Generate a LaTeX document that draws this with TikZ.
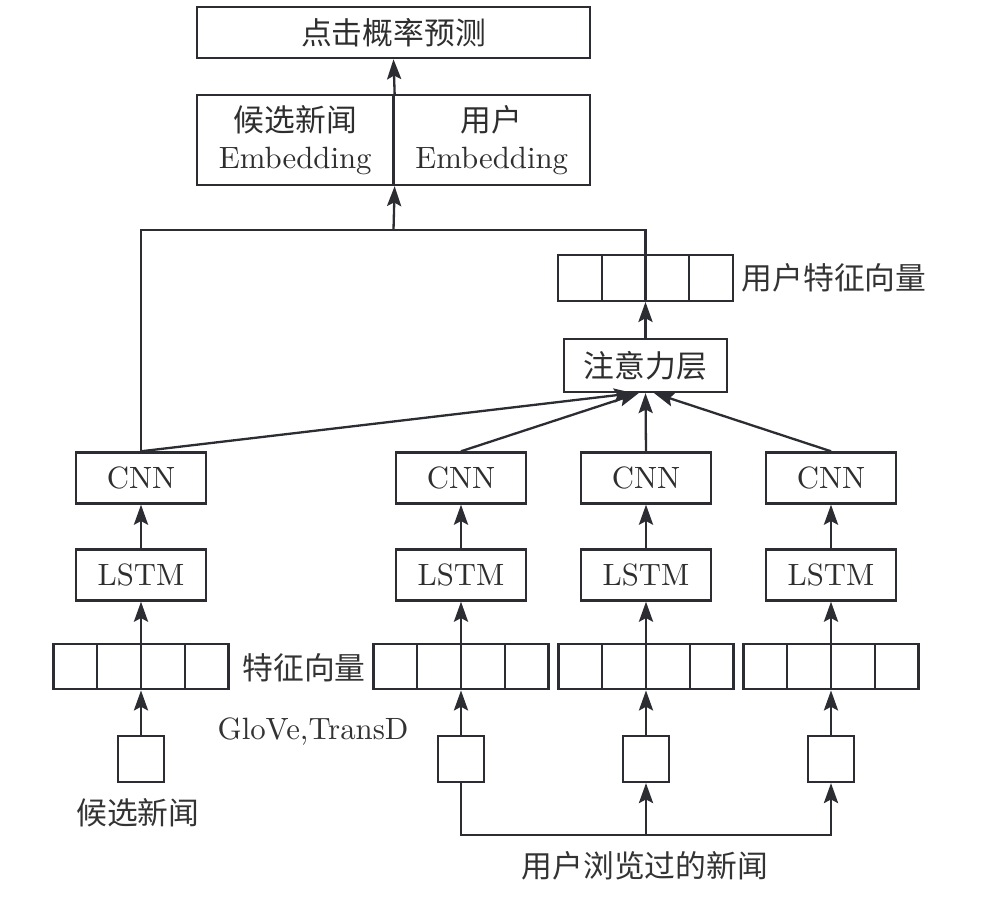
\documentclass[tikz,border=0pt]{standalone}
\usepackage{fontspec}
\newfontfamily\cjk{Noto Sans CJK SC}
\usepackage{tikz}
\usetikzlibrary{arrows.meta}

\definecolor{ink}{HTML}{2B2D33}
\tikzset{
  box/.style={draw=ink, minimum width=42.2pt, minimum height=16.6pt, inner sep=0pt},
  widebox/.style={box, minimum width=127.6pt},
  halfbox/.style={box, minimum width=63.8pt, minimum height=29.2pt, align=center},
  attbox/.style={box, minimum width=52.9pt, minimum height=17.2pt},
  newsbox/.style={box, minimum width=14.9pt, minimum height=14.9pt},
  vecbox/.style={draw=ink, minimum width=56.8pt, minimum height=14.8pt, inner sep=0pt,
    path picture={\foreach \k in {1,2,3}
      \draw[ink] ([xshift=\k*14.2pt]path picture bounding box.south west)
        -- ([xshift=\k*14.2pt]path picture bounding box.north west);}},
  txt/.style={inner sep=0pt, text=black!80}
}

\begin{document}
\begin{tikzpicture}[x=0.3247pt, y=-0.3247pt, line width=0.75pt, ink,
    >={Stealth[length=6.5pt,width=4.6pt,inset=1.2pt]}, every node/.append style={text=black!82}]
  \useasboundingbox (0,0) rectangle (998,898);
  %top part
  \node[widebox] (pred) at (393.5,32.5) {\cjk 点击概率预测};
  \node[halfbox] (candemb) at (295.25,140) {{\cjk 候选新闻}\\Embedding};
  \node[halfbox] (useremb) at (491.75,140) {{\cjk 用户}\\Embedding};
  \draw[->] (candemb.north east) -- (pred.south);
  \coordinate (bus) at (393.5,230);

  \node[vecbox] (uvec) at (645.5,278) {};
  \node[txt] (uveclabel) at (834,278) {\cjk 用户特征向量};
  \node[attbox] (att) at (645.5,365.5) {\cjk 注意力层};
  \draw[->] (att) -- (uvec);

  %columns
  \foreach \i/\x in {0/141,1/461,2/646,3/831} {
    \node[box] (cnn\i) at (\x,478) {CNN};
    \node[box] (lstm\i) at (\x,575) {LSTM};
    \node[vecbox] (vec\i) at (\x,666.5) {};
    \node[newsbox] (news\i) at (\x,759) {};
    \draw[->] (news\i) -- (vec\i);
    \draw[->] (vec\i) -- (lstm\i);
    \draw[->] (lstm\i) -- (cnn\i);
  }
  \draw[->] (cnn0.north) -- ([xshift=-3.8pt]att.south);
  \draw[->] (cnn1.north) -- ([xshift=-2.2pt]att.south);
  \draw[->] (cnn2.north) -- (att.south);
  \draw[->] (cnn3.north) -- ([xshift=2.8pt]att.south);

  \draw (cnn0.north) |- (bus) -| (uvec.north);
  \draw[->] (bus) -- (candemb.south east);

  \node[txt] (veclabel) at (304,668) {\cjk 特征向量};
  \node[txt] (embedlabel) at (313,732) {GloVe,TransD};
  \node[txt] (candlabel) at (138,813) {\cjk 候选新闻};

  %browsed news
  \coordinate (hist) at (646,835);
  \draw[->] (news1.south) |- (hist) -| (news3.south);
  \draw[->] (hist) -- (news2.south);
  \node[txt] (histlabel) at (645,866) {\cjk 用户浏览过的新闻};
\end{tikzpicture}
\end{document}
